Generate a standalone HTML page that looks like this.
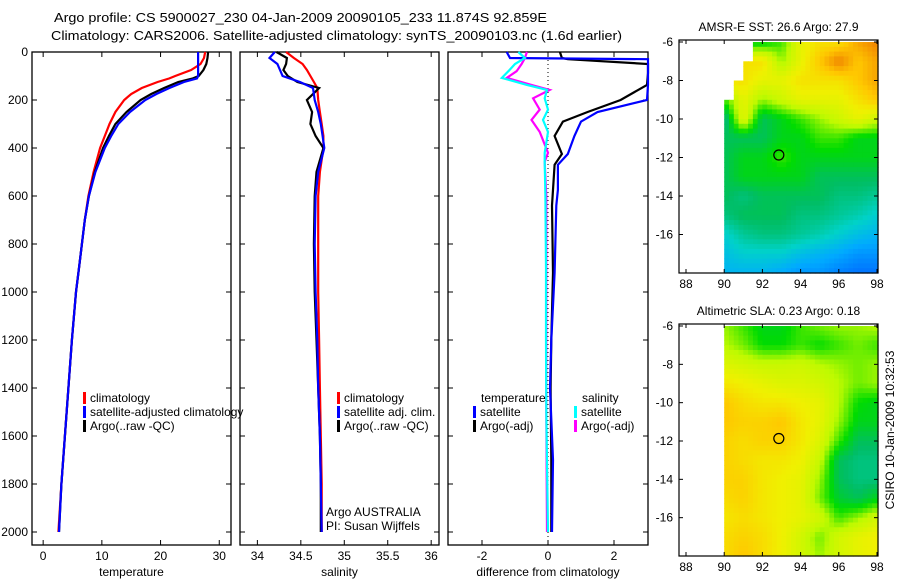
<!DOCTYPE html>
<html><head><meta charset="utf-8"><style>
body{margin:0;background:#fff}
svg{display:block;font-family:"Liberation Sans",sans-serif}
</style></head><body>
<svg id="fig" width="900" height="580" viewBox="0 0 900 580">
<text x="54" y="22" font-size="13" textLength="493" lengthAdjust="spacingAndGlyphs">Argo profile: CS 5900027_230 04-Jan-2009 20090105_233 11.874S 92.859E</text>
<text x="51" y="40" font-size="13" textLength="571" lengthAdjust="spacingAndGlyphs">Climatology: CARS2006. Satellite-adjusted climatology: synTS_20090103.nc (1.6d earlier)</text>
<g id="g"></g>
</svg>
<script>
// ---- data ----
const depthT=[0,25,50,75,100,110,125,150,175,200,250,300,350,400,500,600,700,800,900,1000,1200,1400,1600,1800,2000];
const climT=[27.6,27.4,26.8,25.2,22.5,21.5,19.5,16.8,15,13.8,12.3,11.3,10.5,9.7,8.6,7.7,7.1,6.6,6.1,5.6,4.9,4.3,3.7,3.1,2.6];
const argoT=[28.1,28,27.8,27.3,26.5,25.5,23,20.6,18.4,16.6,14.2,12.3,11.2,10.2,8.8,7.8,7.1,6.6,6.1,5.6,4.9,4.3,3.7,3.1,2.7];
const satT=[26.4,26.4,26.4,26.4,26.4,26.2,24,21.5,19.3,17.4,14.8,12.8,11.6,10.5,8.9,7.8,7.1,6.6,6.1,5.6,4.9,4.3,3.7,3.1,2.7];
const depthS=[0,25,50,75,100,125,150,200,250,300,350,400,500,600,800,1000,1200,1400,1600,1800,2000];
const climS=[34.33,34.42,34.52,34.57,34.61,34.65,34.69,34.7,34.72,34.74,34.76,34.76,34.72,34.7,34.7,34.7,34.71,34.72,34.73,34.74,34.74];
const satS=[34.2,34.14,34.23,34.26,34.29,34.49,34.64,34.66,34.7,34.73,34.75,34.77,34.7,34.67,34.66,34.67,34.69,34.7,34.72,34.73,34.74];
const argoS=[34.22,34.34,34.33,34.3,34.35,34.46,34.71,34.57,34.63,34.61,34.67,34.76,34.68,34.66,34.65,34.66,34.68,34.7,34.72,34.73,34.73];
const depthD=[0,25,30,50,88,137,200,250,290,350,425,470,574,640,920,1200,1400,1700,2000];
const satDT=[-1.25,-1.15,3.2,3.2,3.2,3.2,3,1.5,1.0,0.8,0.6,0.3,0.3,0.25,0.2,0.1,0.06,0.15,0.12];
const argoDT=[0.36,0.42,0.6,3.2,3.2,3.0,2.2,1.2,0.45,0.2,0.42,0.2,0.15,0.12,0.15,0.1,0.08,0.1,0.1];
const depthDS=[0,25,50,80,108,137,158,193,240,283,333,420,458,600,900,1200,1500,2000];
const satDS=[-0.9,-0.7,-1.0,-1.2,-1.4,-0.64,-0.03,-0.1,0,-0.15,0,-0.1,-0.1,-0.08,-0.06,-0.06,-0.05,0];
const argoDS=[-0.64,-0.7,-0.8,-0.95,-1.25,-0.5,0.05,-0.45,-0.25,-0.5,-0.25,0,-0.1,-0.05,-0.05,-0.05,-0.05,-0.03];
const depthTicks=[0,200,400,600,800,1000,1200,1400,1600,1800,2000];
const tempTicks=[0,10,20,30];
const salTicks=[34,34.5,35,35.5,36];
const diffTicks=[-2,0,2];
const lonTicks=[88,90,92,94,96,98];
const latTicks=[-6,-8,-10,-12,-14,-16];
const gridLats=[-6,-7,-8,-9,-10,-11,-12,-13,-14,-15,-16,-17,-18];
const gridLons=[90,91,92,93,94,95,96,97,98];
const sstMaskStart=[91.5,90.9,90.5,90,90,90,90,90,90,90,90,90,90];
const sstGrid=[
[0.5,0.5,0.5,0.55,0.7,0.75,0.75,0.85,0.9],
[0.75,0.75,0.75,0.6,0.7,0.8,0.9,0.8,0.85],
[0.75,0.75,0.7,0.7,0.75,0.75,0.75,0.8,0.85],
[0.55,0.7,0.6,0.65,0.7,0.7,0.7,0.75,0.8],
[0.4,0.7,0.45,0.5,0.55,0.6,0.65,0.7,0.65],
[0.45,0.45,0.45,0.5,0.5,0.55,0.55,0.5,0.5],
[0.45,0.5,0.5,0.55,0.5,0.5,0.5,0.5,0.5],
[0.45,0.5,0.5,0.5,0.5,0.45,0.45,0.45,0.45],
[0.45,0.42,0.45,0.45,0.45,0.45,0.42,0.42,0.4],
[0.42,0.45,0.45,0.45,0.42,0.42,0.4,0.38,0.35],
[0.35,0.4,0.42,0.42,0.4,0.38,0.35,0.32,0.3],
[0.32,0.35,0.35,0.35,0.32,0.3,0.28,0.25,0.25],
[0.3,0.3,0.3,0.28,0.25,0.25,0.22,0.2,0.2]];
const slaGrid=[
[0.6,0.55,0.5,0.5,0.55,0.58,0.6,0.6,0.62],
[0.62,0.58,0.52,0.52,0.55,0.52,0.55,0.58,0.55],
[0.68,0.66,0.64,0.64,0.65,0.62,0.6,0.58,0.6],
[0.74,0.72,0.7,0.68,0.68,0.66,0.62,0.58,0.6],
[0.8,0.76,0.74,0.74,0.72,0.7,0.62,0.52,0.5],
[0.8,0.78,0.78,0.8,0.74,0.7,0.6,0.5,0.5],
[0.78,0.76,0.78,0.78,0.74,0.68,0.55,0.45,0.45],
[0.78,0.76,0.74,0.74,0.72,0.64,0.45,0.42,0.42],
[0.78,0.78,0.74,0.72,0.7,0.6,0.45,0.42,0.42],
[0.76,0.78,0.74,0.72,0.7,0.58,0.48,0.45,0.5],
[0.74,0.76,0.74,0.72,0.7,0.66,0.55,0.6,0.66],
[0.76,0.78,0.76,0.72,0.66,0.58,0.66,0.7,0.72],
[0.76,0.8,0.76,0.72,0.66,0.6,0.66,0.7,0.72]];
const floatLon=92.86, floatLat=-11.87;

const NS="http://www.w3.org/2000/svg";
const G=document.getElementById('g');
function el(tag,attrs,parent){const e=document.createElementNS(NS,tag);for(const k in attrs)e.setAttribute(k,attrs[k]);(parent||G).appendChild(e);return e;}
function txt(x,y,s,size,anchor,parent){const t=el('text',{x:x,y:y,'font-size':size,'text-anchor':anchor||'middle'},parent);t.textContent=s;return t;}

const Y0=52, KY=0.24, BOT=545;
function yD(d){return Y0+d*KY;}

function panel(name,x0,x1,xmin,xmax,ticks,xlabel,showY){
  const sx=v=>x0+(v-xmin)/(xmax-xmin)*(x1-x0);
  const g=el('g',{});
  
  
  el('rect',{x:x0,y:Y0,width:x1-x0,height:BOT-Y0,fill:'none',stroke:'#000','stroke-width':1.3},g);
  depthTicks.forEach(d=>{
    const y=yD(d);
    el('line',{x1:x0,y1:y,x2:x0+5,y2:y,stroke:'#000'},g);
    el('line',{x1:x1,y1:y,x2:x1-5,y2:y,stroke:'#000'},g);
    if(showY){const t=txt(28,y+4,String(d),12,'end',g);
      
      }
  });
  ticks.forEach(v=>{
    const x=sx(v);
    el('line',{x1:x,y1:BOT,x2:x,y2:BOT-5,stroke:'#000'},g);
    el('line',{x1:x,y1:Y0,x2:x,y2:Y0+5,stroke:'#000'},g);
    const t=txt(x,560,String(v),12,'middle',g);
    
    
  });
  const xl=txt((x0+x1)/2,576,xlabel,12,'middle',g);
  
  
  return {sx,g,x0,x1};
}
function line(p,depths,vals,color,name,w){
  const pts=depths.map((d,i)=>{let x=p.sx(vals[i]);x=Math.max(p.x0,Math.min(p.x1,x));return x.toFixed(1)+','+yD(d).toFixed(1);}).join(' ');
  const l=el('polyline',{points:pts,fill:'none',stroke:color,'stroke-width':w||2.2},p.g);
  
  
}
function legend(p,x,y,color,label,name){
  el('rect',{x:x,y:y-10,width:3,height:12,fill:color},p.g);
  const t=txt(x+7,y,label,12,'start',p.g);
  
  
}

const pT=panel('temperature',32,231,-1.9,32,tempTicks,'temperature',true);
line(pT,depthT,climT,'#f00','climatology-temp-line');
line(pT,depthT,argoT,'#000','argo-temp-line');
line(pT,depthT,satT,'#00f','satellite-temp-line');
legend(pT,83,402,'#f00','climatology','legend-climatology');
legend(pT,83,416,'#00f','satellite-adjusted climatology','legend-satellite');
legend(pT,83,430,'#000','Argo(..raw -QC)','legend-argo');

const pS=panel('salinity',240,439,33.8,36.09,salTicks,'salinity',false);
line(pS,depthS,climS,'#f00','climatology-salinity-line');
line(pS,depthS,argoS,'#000','argo-salinity-line');
line(pS,depthS,satS,'#00f','satellite-salinity-line');
legend(pS,337,402,'#f00','climatology','legend-sal-climatology');
legend(pS,337,416,'#00f','satellite adj. clim.','legend-sal-satellite');
legend(pS,337,430,'#000','Argo(..raw -QC)','legend-sal-argo');
let t=txt(326,516,'Argo AUSTRALIA',12,'start',pS.g);


t=txt(326,530,'PI: Susan Wijffels',12,'start',pS.g);



const pD=panel('difference',448,648,-3.03,3.03,diffTicks,'difference from climatology',false);
el('line',{x1:pD.sx(0),y1:Y0,x2:pD.sx(0),y2:BOT,stroke:'#000','stroke-dasharray':'1,3'},pD.g);
line(pD,depthD,argoDT,'#000','argo-temp-diff-line');
line(pD,depthD,satDT,'#00f','satellite-temp-diff-line');
line(pD,depthDS,argoDS,'#f0f','argo-sal-diff-line');
line(pD,depthDS,satDS,'#0ff','satellite-sal-diff-line');
t=txt(481,402,'temperature',12,'start',pD.g);


t=txt(582,402,'salinity',12,'start',pD.g);


legend(pD,473,416,'#00f','satellite','legend-diff-temp-sat');
legend(pD,473,430,'#000','Argo(-adj)','legend-diff-temp-argo');
legend(pD,574,416,'#0ff','satellite','legend-diff-sal-sat');
legend(pD,574,430,'#f0f','Argo(-adj)','legend-diff-sal-argo');

const stops=[[0,[0,0,150]],[0.15,[0,80,255]],[0.28,[0,170,255]],[0.36,[0,210,200]],[0.44,[0,190,100]],[0.52,[0,220,0]],[0.62,[190,250,0]],[0.72,[240,240,0]],[0.8,[255,200,0]],[0.9,[240,130,0]],[1,[190,60,0]]];
function cmap(v){v=Math.max(0,Math.min(1,v));for(let i=1;i<stops.length;i++){if(v<=stops[i][0]){const a=stops[i-1],b=stops[i];const f=(v-a[0])/(b[0]-a[0]);const c=a[1].map((x,k)=>Math.round(x+(b[1][k]-x)*f));return 'rgb('+c.join(',')+')';}}return 'rgb(190,60,0)';}
function interp(grid,lat,lon){
  const r=Math.max(0,Math.min(gridLats.length-1.001,-6-lat)), c=Math.max(0,Math.min(gridLons.length-1.001,lon-90));
  const r0=Math.floor(r),c0=Math.floor(c),fr=r-r0,fc=c-c0;
  const a=grid[r0][c0],b=grid[r0][c0+1],cc=grid[r0+1][c0],d=grid[r0+1][c0+1];
  return a*(1-fr)*(1-fc)+b*(1-fr)*fc+cc*fr*(1-fc)+d*fr*fc;
}
function drawMap(name,x0,x1,y0,y1,latTop,latBot,grid,mask,title,step){
  const g=el('g',{});
  
  
  const sx=lon=>686+(lon-88)*19.1, sy=lat=>y0+2+(latTop-lat)*((y1-y0-2)/(latTop-latBot));
  for(let lat=latTop;lat>latBot-0.001;lat-=step){
    for(let lon=90;lon<98.2;lon+=step){
      if(mask && lon<mask[Math.max(0,Math.min(mask.length-1,Math.floor(-6-lat)))]) continue;
      const xa=Math.max(x0,sx(lon)), xb=Math.min(x1,sx(lon+step)), ya=sy(lat), yb=Math.min(y1,sy(lat-step));
      if(xb<=xa||yb<=ya) continue;
      const c=el('rect',{x:xa.toFixed(1),y:ya.toFixed(1),width:(xb-xa+0.6).toFixed(1),height:(yb-ya+0.6).toFixed(1),fill:cmap(interp(grid,lat-step/2,lon+step/2))},g);
      
      
    }
  }
  el('rect',{x:x0,y:y0,width:x1-x0,height:y1-y0,fill:'none',stroke:'#000','stroke-width':1.2},g);
  lonTicks.forEach(l=>{const x=sx(l);el('line',{x1:x,y1:y1,x2:x,y2:y1-4,stroke:'#000'},g);el('line',{x1:x,y1:y0,x2:x,y2:y0+4,stroke:'#000'},g);
    const tt=txt(x,y1+15,String(l),12,'middle',g);});
  latTicks.forEach(l=>{const y=sy(l);el('line',{x1:x0,y1:y,x2:x0+4,y2:y,stroke:'#000'},g);el('line',{x1:x1,y1:y,x2:x1-4,y2:y,stroke:'#000'},g);
    const tt=txt(x0-6,y+4,String(l),12,'end',g);});
  const ti=txt((x0+x1)/2,y0-9,title,12,'middle',g);
  
  
  const c=el('circle',{cx:sx(floatLon),cy:sy(floatLat),r:5,fill:'none',stroke:'#000','stroke-width':1.2},g);
  
  
}
drawMap('sst-map',679,878,40,273,-6,-18,sstGrid,sstMaskStart,'AMSR-E SST: 26.6 Argo: 27.9',0.25);
drawMap('sla-map',679,878,324,556,-6,-18,slaGrid,null,'Altimetric SLA: 0.23 Argo: 0.18',0.25);
t=txt(0,0,'CSIRO 10-Jan-2009 10:32:53',12,'middle');
t.setAttribute('transform','translate(894,430) rotate(-90)');


</script>
</body></html>
